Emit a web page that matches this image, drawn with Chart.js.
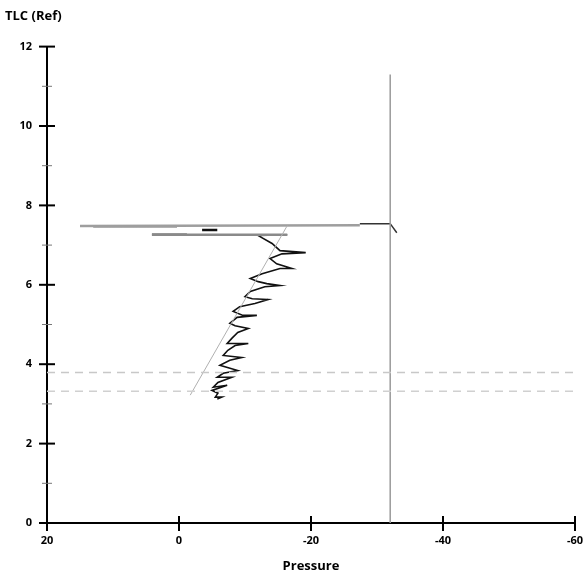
<!DOCTYPE html>
<html>
<head>
<meta charset="utf-8">
<script src="https://cdn.jsdelivr.net/npm/chart.js@4"></script>
<style>
  html, body { margin: 0; padding: 0; background: #fff; }
  #wrap { width: 585px; height: 576px; }
</style>
</head>
<body>
<div id="wrap"><canvas id="pvChart"></canvas></div>
<script>
// tidal trace (black), top to bottom
const traceX = [-16.4, -12.0, -14.1, -15.3, -19.2, -15.6, -13.8, -14.8, -17.1, -15.3, -12.6, -10.8, -12.0, -13.3,
  -15.3, -13.0, -10.8, -10.0, -11.1, -13.5, -11.5, -9.2, -8.2, -9.7, -11.8, -8.8, -7.7, -8.5, -10.5, -8.9,
  -8.0, -7.3, -10.5, -8.5, -7.4, -6.7, -9.5, -7.7, -6.2, -8.9, -6.7, -5.8, -8.0, -5.9, -5.2, -7.3, -5.0,
  -5.9, -5.5, -6.5, -5.8];
const traceY = [7.26, 7.24, 7.04, 6.86, 6.81, 6.78, 6.66, 6.53, 6.41, 6.41, 6.28, 6.16, 6.08, 6.03,
  5.98, 5.95, 5.83, 5.70, 5.65, 5.63, 5.53, 5.45, 5.33, 5.23, 5.23, 5.18, 5.03, 4.97, 4.90, 4.80,
  4.65, 4.52, 4.52, 4.47, 4.35, 4.22, 4.17, 4.10, 3.97, 3.84, 3.77, 3.67, 3.67, 3.54, 3.42, 3.47, 3.34,
  3.27, 3.17, 3.17, 3.12];

// inspiration to TLC (grey)
const lowX = [-16.4, 4.1];
const lowY = [7.26, 7.26];
const lowDarkX = [4.1, -1.2];
const lowDarkY = [7.27, 7.27];
const topX = [15.0, -27.4];
const topY = [7.48, 7.50];
const darkX = [13.0, 0.3];
const darkY = [7.47, 7.47];
const blobX = [-3.5, -5.8];
const blobY = [7.38, 7.38];
const tipX = [-27.4, -32.0, -33.0];
const tipY = [7.54, 7.54, 7.31];

// reference lines
const slopeX = [-1.7, -16.4];
const slopeY = [3.22, 7.49];
const vertX = [-32, -32];
const vertY = [0, 11.3];
const dashY1 = 3.79;
const dashY2 = 3.32;
const xRange = [20, -60];

const xTicks = [20, 0, -20, -40, -60];
const yTicks = [0, 2, 4, 6, 8, 10, 12];

function pts(xs, ys) {
  return xs.map((x, i) => ({ x: x, y: ys[i] }));
}

function lineSet(data, color, width, dash) {
  return {
    data: data,
    showLine: true,
    borderColor: color,
    borderWidth: width,
    borderDash: dash || [],
    pointRadius: 0,
    fill: false,
    tension: 0
  };
}

const crossTicks = {
  id: 'crossTicks',
  afterDraw(chart) {
    const ctx = chart.ctx;
    const xs = chart.scales.x, ys = chart.scales.y;
    const left = xs.left, bottom = ys.bottom;
    ctx.save();
    ys.ticks.forEach(t => {
      const py = ys.getPixelForValue(t.value);
      const major = yTicks.includes(t.value);
      ctx.strokeStyle = major ? '#000' : '#777';
      ctx.lineWidth = major ? 2 : 1;
      const len = major ? 8 : 5;
      ctx.beginPath();
      ctx.moveTo(left - len, py);
      ctx.lineTo(left + len, py);
      ctx.stroke();
    });
    xs.ticks.forEach(t => {
      const px = xs.getPixelForValue(t.value);
      ctx.strokeStyle = '#000';
      ctx.lineWidth = 2;
      ctx.beginPath();
      ctx.moveTo(px, bottom - 7);
      ctx.lineTo(px, bottom + 8);
      ctx.stroke();
    });
    ctx.restore();
  }
};

const ctx = document.getElementById('pvChart').getContext('2d');
new Chart(ctx, {
  type: 'scatter',
  data: {
    datasets: [
      lineSet(pts(xRange, [dashY1, dashY1]), '#c8c8c8', 1.5, [8, 6]),
      lineSet(pts(xRange, [dashY2, dashY2]), '#d0d0d0', 1.5, [8, 6]),
      lineSet(pts(vertX, vertY), '#9a9a9a', 1.5),
      lineSet(pts(slopeX, slopeY), '#b0b0b0', 1),
      lineSet(pts(lowX, lowY), '#8a8a8a', 2.5),
      lineSet(pts(lowDarkX, lowDarkY), '#444444', 2),
      lineSet(pts(topX, topY), '#9e9e9e', 2.5),
      lineSet(pts(darkX, darkY), '#666666', 2),
      lineSet(pts(blobX, blobY), '#111111', 2.5),
      lineSet(pts(tipX, tipY), '#333333', 1.5),
      lineSet(pts(traceX, traceY), '#111111', 1.6)
    ]
  },
  options: {
    responsive: true,
    maintainAspectRatio: false,
    animation: false,
    layout: { padding: { left: 5, right: 0, top: 0, bottom: 0 } },
    plugins: {
      legend: { display: false },
      tooltip: { enabled: false },
      title: {
        display: true,
        text: 'TLC (Ref)',
        align: 'start',
        color: '#000',
        font: { family: 'Open Sans', size: 13, weight: 'bold' },
        padding: { top: 8, bottom: 23 }
      }
    },
    scales: {
      x: {
        type: 'linear',
        reverse: true,
        min: -60,
        max: 20,
        afterBuildTicks(scale) {
          scale.ticks = xTicks.map(v => ({ value: v }));
        },
        afterFit(scale) {
          scale.height = 53;
          scale.paddingRight = 10;
          scale.paddingLeft = 0;
        },
        grid: { display: false, drawTicks: false },
        border: { display: true, color: '#000', width: 2 },
        ticks: {
          color: '#000',
          padding: 11,
          font: { family: 'Open Sans', size: 11, weight: 'bold' }
        },
        title: {
          display: true,
          text: 'Pressure',
          color: '#000',
          font: { family: 'Open Sans', size: 13, weight: 'bold' },
          padding: { top: 0, bottom: 2 }
        }
      },
      y: {
        type: 'linear',
        min: 0,
        max: 12,
        afterFit(scale) { scale.width = 42; },
        grid: { display: false, drawTicks: false },
        border: { display: true, color: '#000', width: 2 },
        ticks: {
          stepSize: 1,
          color: '#000',
          padding: 15,
          font: { family: 'Open Sans', size: 11, weight: 'bold' },
          callback: v => (yTicks.includes(v) ? v : '')
        }
      }
    }
  },
  plugins: [crossTicks]
});
</script>
</body>
</html>
